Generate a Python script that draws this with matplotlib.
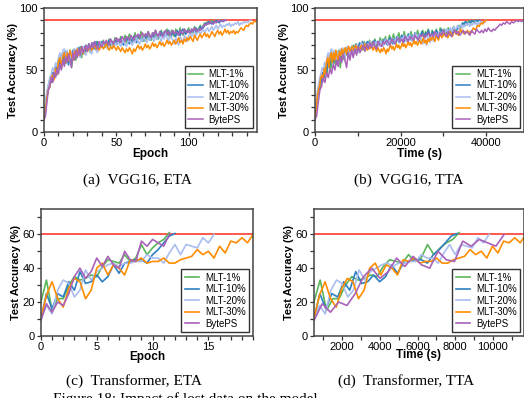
import matplotlib
matplotlib.use("Agg")
import matplotlib.pyplot as plt
from matplotlib.ticker import MultipleLocator
import numpy as np

plt.rcParams['font.family'] = ['Liberation Sans', 'DejaVu Sans']

# Series labels and colours
labels = ['MLT-1%', 'MLT-10%', 'MLT-20%', 'MLT-30%', 'BytePS']
colors = ['#5ab55a', '#2f7fc1', '#a9bdf0', '#ff8c00', '#a862b8']

# VGG16 test accuracy (%) per epoch
vgg_mlt1 = [12, 24, 31, 38, 36, 45, 41, 48, 52, 46,
            56, 60, 51, 62, 64, 55, 63, 58, 66, 52,
            61, 67, 58, 66, 62, 69, 60, 68, 63, 70,
            66, 71, 64, 70, 67, 72, 66, 73, 69, 71,
            70, 74, 68, 73, 70, 75, 69, 73, 71, 76,
            70, 75, 72, 77, 71, 74, 78, 72, 75, 79,
            74, 72, 77, 80, 73, 78, 75, 81, 76, 73,
            79, 75, 81, 77, 74, 80, 76, 82, 78, 75,
            80, 82, 76, 81, 78, 83, 78, 76, 82, 80,
            77, 83, 79, 78, 84, 80, 78, 83, 79, 81,
            84, 79, 82, 80, 85, 81, 80, 84, 86, 83,
            86, 88, 87, 89, 88, 89, 90, 88, 89, 90,
            89, 90, 90]
vgg_mlt10 = [10, 21, 30, 34, 42, 40, 48, 44, 53, 49,
             58, 52, 61, 64, 56, 65, 59, 54, 64, 58,
             66, 59, 65, 61, 68, 62, 67, 63, 69, 65,
             68, 71, 66, 70, 72, 67, 73, 69, 67, 72,
             73, 70, 72, 69, 71, 74, 71, 73, 70, 72,
             74, 71, 73, 75, 72, 70, 74, 76, 73, 71,
             75, 73, 77, 74, 72, 76, 78, 75, 73, 77,
             75, 79, 76, 74, 78, 76, 80, 77, 75, 79,
             77, 81, 78, 76, 80, 78, 82, 79, 77, 81,
             79, 77, 82, 80, 78, 81, 83, 80, 79, 82,
             81, 79, 83, 82, 80, 84, 82, 81, 85, 83,
             84, 86, 88, 87, 89, 88, 87, 89, 88, 90,
             89, 88, 90, 89, 90, 90]
vgg_mlt20 = [11, 23, 33, 38, 44, 47, 52, 49, 56, 53,
             60, 64, 57, 66, 67, 60, 66, 61, 58, 65,
             60, 67, 62, 68, 63, 60, 67, 69, 64, 62,
             68, 70, 65, 63, 69, 71, 66, 64, 70, 72,
             68, 70, 72, 69, 67, 71, 73, 70, 68, 72,
             70, 73, 71, 69, 72, 74, 71, 69, 73, 75,
             72, 70, 74, 72, 76, 73, 71, 75, 73, 77,
             74, 72, 76, 74, 78, 75, 73, 77, 75, 79,
             76, 73, 78, 75, 80, 76, 73, 79, 76, 74,
             71, 76, 73, 70, 77, 75, 72, 78, 76, 73,
             78, 80, 77, 79, 81, 78, 80, 82, 79, 81,
             83, 80, 82, 84, 81, 83, 85, 82, 84, 86,
             83, 85, 87, 84, 86, 85, 87, 86, 88, 85,
             87, 86, 88, 87, 89, 86, 88, 87, 89, 88,
             89, 88, 90, 90]
vgg_mlt30 = [10, 17, 28, 34, 37, 44, 46, 42, 51, 47,
             57, 60, 52, 61, 64, 56, 64, 58, 66, 61,
             58, 65, 61, 67, 62, 66, 68, 63, 67, 69,
             65, 67, 69, 66, 68, 70, 67, 69, 66, 68,
             70, 67, 69, 71, 68, 66, 69, 67, 70, 68,
             66, 69, 67, 65, 68, 66, 64, 67, 65, 68,
             66, 63, 67, 65, 68, 70, 67, 69, 66, 68,
             71, 68, 70, 67, 69, 72, 69, 71, 68, 70,
             73, 70, 72, 69, 71, 74, 71, 73, 70, 72,
             74, 71, 73, 76, 72, 74, 71, 75, 73, 76,
             74, 77, 75, 73, 78, 76, 74, 77, 79, 76,
             78, 80, 77, 79, 76, 78, 81, 79, 77, 80,
             82, 79, 81, 78, 80, 83, 80, 82, 79, 81,
             80, 82, 79, 81, 80, 82, 84, 83, 82, 85,
             86, 85, 87, 88, 87, 89, 89, 90]
vgg_byteps = [10, 13, 24, 34, 37, 44, 40, 48, 44, 51,
              47, 55, 50, 58, 53, 61, 56, 63, 58, 52,
              64, 58, 66, 60, 67, 62, 69, 64, 67, 70,
              65, 71, 67, 72, 68, 73, 69, 67, 73, 70,
              69, 73, 71, 74, 72, 70, 75, 73, 71, 74,
              76, 73, 75, 72, 77, 75, 73, 77, 76, 74,
              78, 76, 74, 78, 77, 79, 76, 78, 80, 77,
              79, 77, 81, 78, 76, 80, 78, 82, 79, 77,
              81, 79, 77, 80, 82, 79, 81, 78, 80, 82,
              79, 81, 80, 78, 82, 80, 79, 83, 81, 80,
              82, 80, 83, 81, 84, 82, 81, 83, 82, 84,
              85, 87, 86, 88, 87, 89, 88, 87, 89, 88,
              89, 90, 89, 90, 89, 90, 90]
vgg_sec_per_epoch = [311, 308, 280, 272, 389]

# Transformer test accuracy (%) every half epoch
tf_mlt1 = [20, 33, 15, 22, 22, 30, 35, 33, 34, 36, 35, 41,
           45, 44, 43, 48, 44, 46, 54, 48, 52, 55, 57, 61]
tf_mlt10 = [10, 25, 16, 25, 23, 32, 27, 38, 31, 32, 36, 32,
            35, 42, 37, 43, 44, 45, 45, 43, 48, 51, 55, 59, 60.5]
tf_mlt20 = [10, 18, 13, 27, 33, 31, 23, 27, 39, 33, 38, 40,
            42, 43, 41, 43, 43, 44, 44, 48, 46, 46, 43, 49,
            54, 48, 54, 53, 52, 58, 55, 60]
tf_mlt30 = [10, 24, 32, 22, 17, 28, 34, 32, 22, 27, 40, 43,
            36, 42, 40, 36, 45, 44, 46, 43, 44, 44, 46, 43,
            43, 45, 46, 47, 51, 48, 50, 46, 53, 49, 56, 55,
            58, 55, 60]
tf_byteps = [9, 19, 14, 20, 18, 25, 35, 40, 34, 38, 46, 41,
             47, 42, 40, 50, 45, 44, 56, 53, 57, 55, 53, 60]
tf_epoch_step = 0.5
tf_start_s = 500
tf_sec_per_step = [335, 317, 300, 296, 439]

vgg_series = [vgg_mlt1, vgg_mlt10, vgg_mlt20, vgg_mlt30, vgg_byteps]
tf_series = [tf_mlt1, tf_mlt10, tf_mlt20, tf_mlt30, tf_byteps]

fig = plt.figure(figsize=(5.24, 3.98), dpi=100)
ax_a = fig.add_axes([0.084, 0.668, 0.406, 0.312])
ax_b = fig.add_axes([0.601, 0.668, 0.399, 0.312])
ax_c = fig.add_axes([0.078, 0.156, 0.405, 0.319])
ax_d = fig.add_axes([0.599, 0.156, 0.401, 0.319])

lw = 1.1
for i, vals in enumerate(vgg_series):
    ep = np.arange(len(vals))
    ax_a.plot(ep, vals, color=colors[i], lw=lw, label=labels[i])
    ax_b.plot(ep * vgg_sec_per_epoch[i], vals, color=colors[i], lw=lw,
              label=labels[i])
for i, vals in enumerate(tf_series):
    idx = np.arange(len(vals))
    ax_c.plot(idx * tf_epoch_step, vals, color=colors[i], lw=1.2,
              label=labels[i])
    ax_d.plot(tf_start_s + idx * tf_sec_per_step[i], vals, color=colors[i],
              lw=1.2, label=labels[i])

# Target accuracy lines
for ax in (ax_a, ax_b):
    ax.axhline(90, color='#ff3b30', lw=1.2, zorder=0.5)
for ax in (ax_c, ax_d):
    ax.axhline(60, color='#ff3b30', lw=1.2, zorder=0.5)

ax_a.set_xlim(0, 147)
ax_a.xaxis.set_major_locator(MultipleLocator(50))
ax_a.xaxis.set_minor_locator(MultipleLocator(10))
ax_b.set_xlim(0, 48800)
ax_b.xaxis.set_major_locator(MultipleLocator(20000))
ax_b.xaxis.set_minor_locator(MultipleLocator(10000))
for ax in (ax_a, ax_b):
    ax.set_ylim(0, 100)
    ax.yaxis.set_major_locator(MultipleLocator(50))
    ax.yaxis.set_minor_locator(MultipleLocator(10))

ax_c.set_xlim(0, 19)
ax_c.xaxis.set_major_locator(MultipleLocator(5))
ax_c.xaxis.set_minor_locator(MultipleLocator(1))
ax_d.set_xlim(500, 11650)
ax_d.set_xticks([2000, 4000, 6000, 8000, 10000])
ax_d.xaxis.set_minor_locator(MultipleLocator(1000))
for ax in (ax_c, ax_d):
    ax.set_ylim(0, 75)
    ax.yaxis.set_major_locator(MultipleLocator(20))
    ax.yaxis.set_minor_locator(MultipleLocator(10))

for ax in (ax_a, ax_b, ax_c, ax_d):
    for s in ax.spines.values():
        s.set_color('#444444')
        s.set_linewidth(1.1)
    ax.tick_params(which='both', direction='out', length=3, width=0.9,
                   color='#333333', labelsize=8, pad=1.5)
    ax.set_ylabel('Test Accuracy (%)', fontsize=8, fontweight='bold',
                  labelpad=1)
    leg = ax.legend(loc='lower right', fontsize=7, handlelength=1.5,
                    handletextpad=0.6, labelspacing=0.15, borderpad=0.35,
                    fancybox=False, framealpha=1, edgecolor='#333333',
                    borderaxespad=0.4)
    leg.get_frame().set_linewidth(1.0)

ax_a.set_xlabel('Epoch', fontsize=8.5, fontweight='bold', labelpad=0)
ax_b.set_xlabel('Time (s)', fontsize=8.5, fontweight='bold', labelpad=0)
ax_c.set_xlabel('Epoch', fontsize=8.5, fontweight='bold', labelpad=-1)
ax_d.set_xlabel('Time (s)', fontsize=8.5, fontweight='bold', labelpad=-2)

cap = dict(fontsize=11, family='Liberation Serif', ha='center', va='center')
fig.text(137 / 524, 1 - 180 / 398, '(a)  VGG16, ETA', **cap)
fig.text(409 / 524, 1 - 180 / 398, '(b)  VGG16, TTA', **cap)
fig.text(134 / 524, 1 - 381 / 398, '(c)  Transformer, ETA', **cap)
fig.text(406 / 524, 1 - 381 / 398, '(d)  Transformer, TTA', **cap)
fig.text(53 / 524, 1 - 392 / 398, 'Figure 18: Impact of lost data on the model',
         fontsize=11, family='Liberation Serif', ha='left', va='top')

fig.savefig('out.png', dpi=100)
